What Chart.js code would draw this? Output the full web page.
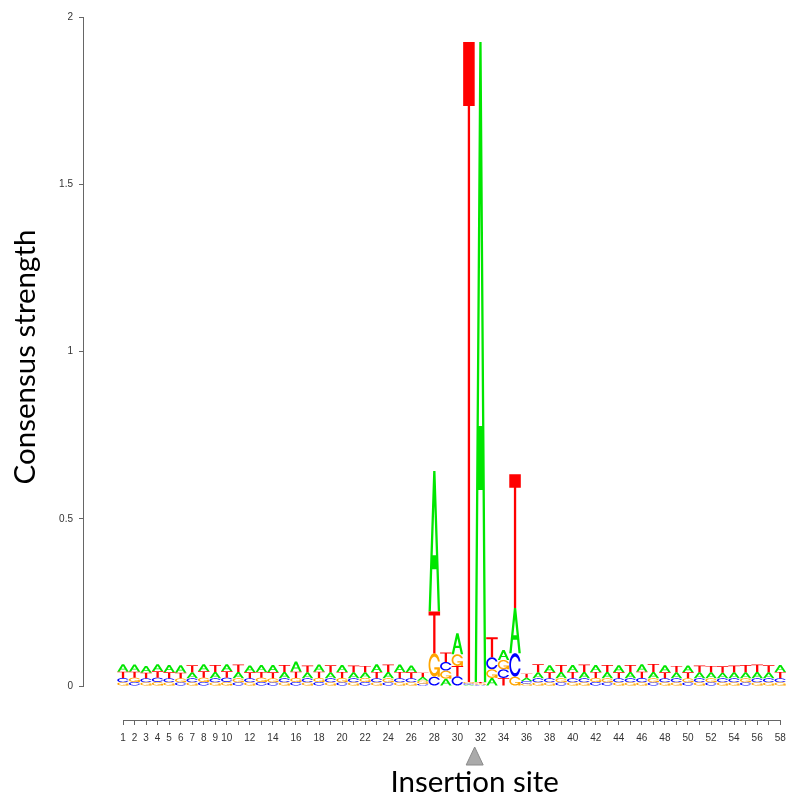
<!DOCTYPE html>
<html>
<head>
<meta charset="utf-8">
<script src="https://cdn.jsdelivr.net/npm/chart.js@4.4.1/dist/chart.umd.min.js"></script>
<style>
html,body{margin:0;padding:0;background:#fff;}
#wrap{width:788px;height:798px;}
</style>
</head>
<body>
<div id="wrap"><canvas id="c" width="788" height="798"></canvas></div>
<script>
// ---- data ----
const positions = [1,2,3,4,5,6,7,8,9,10,11,12,13,14,15,16,17,18,19,20,21,22,23,24,25,26,27,28,29,30,
  31,32,33,34,35,36,37,38,39,40,41,42,43,44,45,46,47,48,49,50,51,52,53,54,55,56,57,58];
const heightA = [0.022,0.021,0.020,0.021,0.022,0.022,0.018,0.021,0.019,0.021,0.019,0.020,0.021,0.022,0.019,0.030,0.018,0.021,0.018,0.021,
  0.018,0.017,0.023,0.019,0.022,0.020,0.011,0.420,0.022,0.063,0.004,1.913,0.024,0.030,0.135,0.010,0.018,0.021,0.019,0.021,
  0.019,0.021,0.019,0.021,0.019,0.022,0.019,0.021,0.018,0.020,0.018,0.018,0.017,0.018,0.018,0.019,0.018,0.021];
const heightC = [0.013,0.012,0.012,0.013,0.012,0.011,0.012,0.012,0.012,0.013,0.011,0.012,0.012,0.011,0.012,0.012,0.012,0.012,0.012,0.011,
  0.012,0.012,0.012,0.011,0.012,0.012,0.007,0.028,0.026,0.029,0.004,0.004,0.036,0.026,0.070,0.008,0.012,0.012,0.011,0.012,
  0.012,0.012,0.011,0.012,0.012,0.013,0.011,0.012,0.012,0.011,0.012,0.011,0.012,0.012,0.011,0.012,0.012,0.012];
const heightG = [0.011,0.013,0.011,0.012,0.011,0.012,0.011,0.013,0.011,0.012,0.012,0.011,0.013,0.012,0.011,0.012,0.011,0.012,0.011,0.013,
  0.011,0.012,0.011,0.012,0.011,0.011,0.009,0.070,0.024,0.035,0.004,0.004,0.026,0.028,0.028,0.007,0.011,0.011,0.012,0.011,
  0.011,0.012,0.012,0.011,0.011,0.011,0.012,0.011,0.011,0.012,0.011,0.012,0.011,0.011,0.012,0.011,0.011,0.011];
const heightT = [0.019,0.018,0.017,0.019,0.018,0.017,0.021,0.019,0.021,0.019,0.022,0.018,0.017,0.018,0.021,0.019,0.020,0.019,0.021,0.018,
  0.020,0.019,0.019,0.022,0.019,0.018,0.013,0.125,0.028,0.031,1.913,0.004,0.060,0.024,0.400,0.012,0.024,0.018,0.021,0.019,
  0.022,0.018,0.021,0.018,0.021,0.019,0.024,0.018,0.019,0.018,0.020,0.019,0.019,0.020,0.022,0.022,0.021,0.019];
const yTickValues = [0, 0.5, 1, 1.5, 2];
const insertionSite = 31.5;
const yTitle = 'Consensus strength';
const xTitle = 'Insertion site';

// ---- build stacked letter intervals (smallest at bottom) ----
const letters = ['A','C','G','T'];
const letterColors = {A:'#00E600', C:'#0000FF', G:'#FFA500', T:'#FF0000'};
const heights = {A:heightA, C:heightC, G:heightG, T:heightT};
const intervals = {A:[], C:[], G:[], T:[]};
positions.forEach((pos, j) => {
  const order = letters.slice().sort((a, b) => heights[a][j] - heights[b][j]);
  let base = 0;
  order.forEach(L => {
    const h = heights[L][j];
    intervals[L].push({x: pos, y: [base, base + h]});
    base += h;
  });
});

// ---- letter shapes (unit box, y up), seqLogo style ----
function ringPts() {
  const pts = [], N = 60, p0 = 0.3, pin = 0.437;
  for (let i = 0; i <= N; i++) {
    const phi = p0 + (2*Math.PI - 2*p0) * i / N;
    pts.push([0.5 + 0.5*Math.cos(phi), 0.5 + 0.5*Math.sin(phi)]);
  }
  for (let i = N; i >= 0; i--) {
    const phi = pin + (2*Math.PI - 2*pin) * i / N;
    pts.push([0.5 + 0.35*Math.cos(phi), 0.5 + 0.35*Math.sin(phi)]);
  }
  return pts;
}
const RING = ringPts();
const SHAPES = {
  A: [[[0,0],[0.4,1],[0.6,1],[1,0],[0.8,0],[0.68,0.3],[0.32,0.3],[0.2,0]], [[0.36,0.4],[0.5,0.75],[0.64,0.4]]],
  T: [[[0,1],[1,1],[1,0.9],[0.6,0.9],[0.6,0],[0.4,0],[0.4,0.9],[0,0.9]]],
  C: [RING],
  G: [RING, [[0.978,0.4],[0.5,0.4],[0.5,0.3],[0.778,0.3],[0.778,0],[0.978,0]]]
};
function drawLetter(ctx, L, left, bottom, w, h, color) {
  ctx.fillStyle = color;
  const polys = SHAPES[L];
  if (L === 'A') {
    ctx.beginPath();
    polys.forEach(poly => {
      poly.forEach((p, k) => {
        const X = left + p[0]*w, Y = bottom - p[1]*h;
        if (k === 0) ctx.moveTo(X, Y); else ctx.lineTo(X, Y);
      });
      ctx.closePath();
    });
    ctx.fill('evenodd');
  } else {
    polys.forEach(poly => {
      ctx.beginPath();
      poly.forEach((p, k) => {
        const X = left + p[0]*w, Y = bottom - p[1]*h;
        if (k === 0) ctx.moveTo(X, Y); else ctx.lineTo(X, Y);
      });
      ctx.closePath();
      ctx.fill();
    });
  }
}

const logoPlugin = {
  id: 'logo',
  afterDatasetsDraw(chart) {
    const ctx = chart.ctx;
    ctx.save();
    chart.data.datasets.forEach((ds, i) => {
      const meta = chart.getDatasetMeta(i);
      meta.data.forEach(el => {
        const p = el.getProps(['x','y','base','width'], true);
        const top = Math.min(p.y, p.base), bottom = Math.max(p.y, p.base);
        if (bottom - top <= 0) return;
        drawLetter(ctx, ds.label, p.x - p.width/2, bottom, p.width, bottom - top, letterColors[ds.label]);
      });
    });
    ctx.restore();
  },
  afterDraw(chart) {
    const ctx = chart.ctx;
    const xs = chart.scales.x, ys = chart.scales.y;
    const area = chart.chartArea;
    ctx.save();
    ctx.strokeStyle = '#666';
    ctx.lineWidth = 1;
    // y axis line (0..2)
    const ax = Math.round(area.left) - 0.5;
    ctx.beginPath();
    ctx.moveTo(ax, Math.round(ys.getPixelForValue(yTickValues[0])) + 0.5);
    ctx.lineTo(ax, Math.round(ys.getPixelForValue(yTickValues[yTickValues.length-1])) + 0.5);
    ctx.stroke();
    // x axis line (first..last position)
    const ay = Math.round(area.bottom) + 0.5;
    ctx.beginPath();
    ctx.moveTo(Math.round(xs.getPixelForValue(positions[0])) + 0.5, ay);
    ctx.lineTo(Math.round(xs.getPixelForValue(positions[positions.length-1])) + 0.5, ay);
    ctx.stroke();
    // insertion site marker
    const tx = xs.getPixelForValue(insertionSite);
    ctx.fillStyle = '#aaaaaa';
    ctx.strokeStyle = '#8a8a8a';
    ctx.beginPath();
    ctx.moveTo(tx, 747);
    ctx.lineTo(tx + 8.5, 765);
    ctx.lineTo(tx - 8.5, 765);
    ctx.closePath();
    ctx.fill();
    ctx.stroke();
    // titles
    ctx.fillStyle = '#000';
    ctx.font = '29.5px Lato';
    ctx.textAlign = 'center';
    ctx.textBaseline = 'middle';
    ctx.fillText(xTitle, tx, 782);
    ctx.translate(25, 357);
    ctx.rotate(-Math.PI/2);
    ctx.fillText(yTitle, 0, 0);
    ctx.restore();
  }
};

new Chart(document.getElementById('c'), {
  type: 'bar',
  data: {
    datasets: letters.map(L => ({
      label: L,
      data: intervals[L],
      backgroundColor: 'rgba(0,0,0,0)',
      borderWidth: 0,
      grouped: false,
      barPercentage: 1,
      categoryPercentage: 1
    }))
  },
  options: {
    responsive: false,
    animation: false,
    devicePixelRatio: 1,
    events: [],
    layout: {padding: {left: 0, right: 2, top: 17, bottom: 0}},
    plugins: {legend: {display: false}, tooltip: {enabled: false}, title: {display: false}},
    scales: {
      x: {
        type: 'linear',
        min: -2.384,
        max: 58.5,
        offset: false,
        afterBuildTicks: (scale) => { scale.ticks = positions.map(v => ({value: v})); },
        afterFit: (scale) => { scale.height = 78; scale.paddingLeft = 0; scale.paddingRight = 0; },
        border: {display: false},
        grid: {drawOnChartArea: false, drawTicks: true, tickLength: 5, color: '#666', offset: false},
        ticks: {
          autoSkip: false, maxRotation: 0, minRotation: 0, padding: 7,
          color: '#333', font: {family: 'Liberation Sans', size: 10},
          callback: (v) => (v < 10 || v % 2 === 0) ? String(v) : ''
        }
      },
      y: {
        type: 'linear',
        min: -0.1016,
        max: 2,
        afterBuildTicks: (scale) => { scale.ticks = yTickValues.map(v => ({value: v})); },
        afterFit: (scale) => { scale.width = 84; scale.paddingTop = 0; scale.paddingBottom = 0; },
        border: {display: false},
        grid: {drawOnChartArea: false, drawTicks: true, tickLength: 5, color: '#666'},
        ticks: {
          padding: 6, color: '#333', font: {family: 'Liberation Sans', size: 10},
          callback: (v) => String(v)
        }
      }
    }
  },
  plugins: [logoPlugin]
});
</script>
</body>
</html>
